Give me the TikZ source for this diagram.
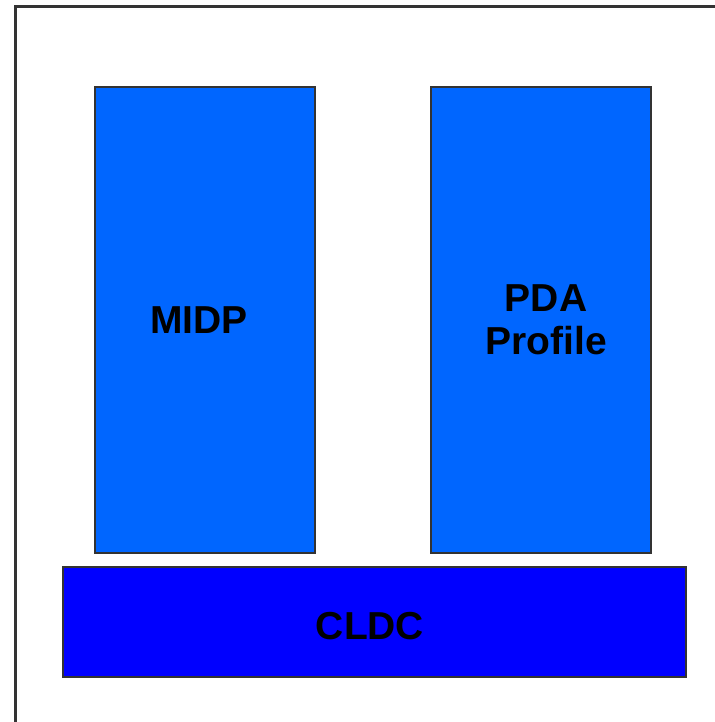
\documentclass[tikz,border=0pt]{standalone}
\usepackage{fontspec}
\setmainfont{Liberation Sans}
\definecolor{lightblue}{HTML}{0066FF}
\definecolor{deepblue}{HTML}{0000FF}
\definecolor{edge}{HTML}{333333}
\begin{document}
\begin{tikzpicture}[x=1pt,y=-1pt,
  box/.style={draw=edge,line width=2pt,fill=lightblue},
  lbl/.style={font=\fontsize{39}{43}\selectfont\bfseries,text=black,align=center}]
\useasboundingbox (0,0) rectangle (714,722);
\draw[edge,line width=3pt] (15,740) -- (15,7) -- (740,7);
\draw[box] (95,87) rectangle (315,553);
\node[lbl] (midp) at (199,320) {MIDP};
\draw[box] (431,87) rectangle (651,553);
\node[lbl] (pda) at (546,320) {PDA\\Profile};
\draw[box,fill=deepblue] (63,567) rectangle (686,677);
\node[lbl] (cldc) at (370,626) {CLDC};
\end{tikzpicture}
\end{document}
